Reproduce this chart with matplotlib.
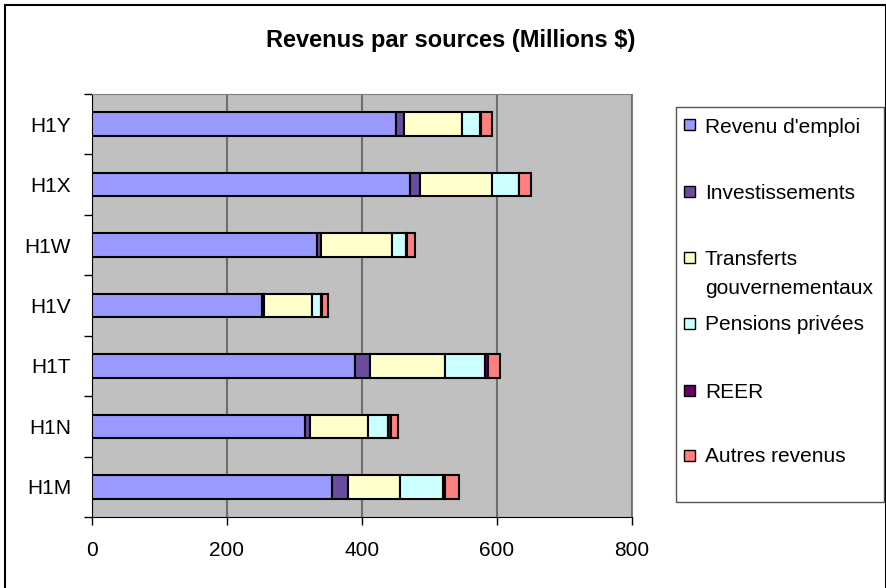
import matplotlib.pyplot as plt
import numpy as np
from matplotlib.patches import Rectangle

plt.rcParams['font.family'] = ['Liberation Sans', 'DejaVu Sans']

# donnees (de bas en haut)
regions = ["H1M", "H1N", "H1T", "H1V", "H1W", "H1X", "H1Y"]
revenu_emploi = [356, 315, 389, 252, 334, 471, 450]
investissements = [24, 8, 23, 3, 6, 15, 12]
transferts = [77, 86, 111, 71, 104, 107, 86]
pensions = [63, 30, 59, 14, 21, 39, 27]
reer = [3, 4, 4, 1, 1, 1, 1]
autres = [20, 11, 18, 9, 12, 18, 17]

noms = ["Revenu d'emploi", "Investissements", "Transferts\ngouvernementaux",
        "Pensions privées", "REER", "Autres revenus"]
couleurs = ["#9999FF", "#6A4C9C", "#FFFFCC", "#CCFFFF", "#660066", "#FF8080"]
series = [revenu_emploi, investissements, transferts, pensions, reer, autres]

fig = plt.figure(figsize=(8.87, 5.88), dpi=100)
ax = fig.add_axes([92/887, 71/588, 540/887, 423/588])
ax.set_facecolor("#C0C0C0")

y = np.arange(len(regions))
gauche = np.zeros(len(regions))
for vals, nom, c in zip(series, noms, couleurs):
    ax.barh(y, vals, left=gauche, height=0.39, color=c, edgecolor="black",
            linewidth=1.5, zorder=3)
    gauche += np.array(vals)

ax.set_xlim(0, 800)
ax.set_ylim(-0.5, len(regions) - 0.5)
ax.set_xticks([0, 200, 400, 600, 800])
ax.tick_params(axis="x", labelsize=15, length=6, width=1, pad=11, direction="out")
ax.set_yticks(y)
ax.set_yticklabels(regions)
ax.tick_params(axis="y", which="major", labelsize=15, length=0, pad=15)
ax.set_yticks(np.arange(-0.5, len(regions)), minor=True)
ax.tick_params(axis="y", which="minor", length=6, width=1, direction="out")
ax.grid(axis="x", color="#6E6E6E", linewidth=1.5, zorder=1)
ax.set_axisbelow(True)
for s in ["top", "right"]:
    ax.spines[s].set_color("#808080")
for s in ["left", "bottom"]:
    ax.spines[s].set_color("black")

fig.text(451/887, 1 - 41/588, "Revenus par sources (Millions $)", fontsize=17,
         fontweight="bold", ha="center", va="center")

# legende dessinee a la main
fig.patches.append(Rectangle((676/887, 1 - 502/588), 208/887, 395/588,
                             transform=fig.transFigure, facecolor="white",
                             edgecolor="#555555", linewidth=1))
ligne_y = [125, 191, 257, 323, 390, 455]
for nom, c, yy in zip(noms, couleurs, ligne_y):
    fig.patches.append(Rectangle((684/887, 1 - (yy + 5.5)/588), 11/887, 11/588,
                                 transform=fig.transFigure, facecolor=c,
                                 edgecolor="black", linewidth=1))
    for k, morceau in enumerate(nom.split("\n")):
        fig.text(705/887, 1 - (yy + 7.5 + 29 * k)/588, morceau, fontsize=15,
                 ha="left", va="baseline")

# cadre du graphique
fig.patches.append(Rectangle((5/887, -0.01), 881/887, 1 - 5/588 + 0.01,
                             transform=fig.transFigure, fill=False,
                             edgecolor="black", linewidth=1.5))

fig.savefig("out.png", dpi=100)
